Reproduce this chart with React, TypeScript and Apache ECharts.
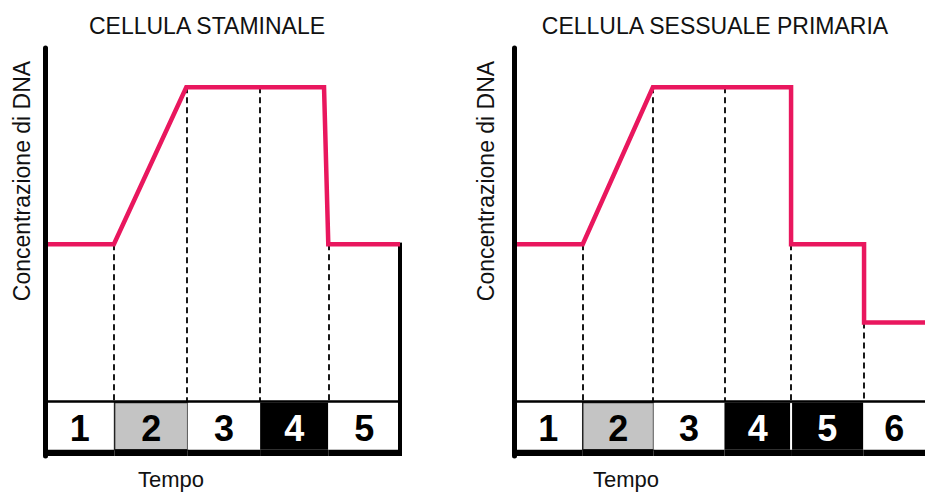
import React, { useEffect, useRef } from 'react';
import * as echarts from 'echarts';

const titles = ['CELLULA STAMINALE', 'CELLULA SESSUALE PRIMARIA'];
const yLabel = 'Concentrazione di DNA';
const xLabel = 'Tempo';

// Chart 1: stem cell — DNA content vs. time
const stemX = [0, 0.97, 1.99, 3.93, 3.99, 5];
const stemY = [2, 2, 4, 4, 2, 2];
const stemGuideX = [0.97, 1.99, 3.03, 3.99];
const stemGuideTop = [2, 4, 4, 2];
const stemBounds = [0, 0.98, 2.01, 3.03, 3.99, 5];
const stemPhases = ['1', '2', '3', '4', '5'];

// Chart 2: primary germ cell — DNA content vs. time
const germX = [0, 0.97, 1.96, 3.91, 3.91, 4.94, 4.94, 5.8];
const germY = [2, 2, 4, 4, 2, 2, 1, 1];
const germGuideX = [0.97, 1.96, 2.98, 3.91, 4.94];
const germGuideTop = [2, 4, 4, 2, 1];
const germBounds = [0, 0.97, 1.97, 2.97, 3.91, 4.93, 5.8];
const germPhases = ['1', '2', '3', '4', '5', '6'];

// styles
const RED = '#e9175e';
const GRAY = '#c4c4c4';
const stemFills = ['#fff', GRAY, '#fff', '#000', '#fff'];
const germFills = ['#fff', GRAY, '#fff', '#000', '#000', '#fff'];
const Y_MIN = -0.7;
const Y_MAX = 4.5;
const CELL_BOTTOM = -0.62;
const FONT = '"Liberation Sans", Arial, Helvetica, sans-serif';

function cellSeries(gi: number, bounds: number[], phases: string[], fills: string[]) {
  return {
    type: 'custom',
    xAxisIndex: gi,
    yAxisIndex: gi,
    silent: true,
    z: 3,
    encode: { x: [0, 1] },
    data: phases.map((_, i) => [bounds[i], bounds[i + 1], i]),
    renderItem: (_params: any, api: any) => {
      const i = api.value(2);
      const a = api.coord([api.value(0), 0]);
      const b = api.coord([api.value(1), CELL_BOTTOM]);
      const c = api.coord([api.value(1), Y_MIN]);
      const fill = fills[i];
      const children: any[] = [
        {
          type: 'rect',
          shape: { x: a[0], y: a[1] + 1.5, width: b[0] - a[0], height: b[1] - a[1] - 1.5 },
          style: { fill, stroke: fill === GRAY ? '#222' : null, lineWidth: 1.5 },
        },
        {
          type: 'rect',
          shape: { x: a[0], y: b[1], width: b[0] - a[0], height: c[1] - b[1] },
          style: { fill: '#000' },
        },
        {
          type: 'text',
          x: (a[0] + b[0]) / 2,
          y: (a[1] + b[1]) / 2 + 3,
          style: {
            text: phases[i],
            fill: fill === '#000' ? '#fff' : '#000',
            font: `bold 36px ${FONT}`,
            align: 'center',
            verticalAlign: 'middle',
          },
        },
      ];
      if (i > 0 && fills[i - 1] === '#000' && fill === '#000') {
        children.push({
          type: 'line',
          shape: { x1: a[0], y1: a[1] + 2, x2: a[0], y2: b[1] },
          style: { stroke: '#fff', lineWidth: 2 },
        });
      }
      return { type: 'group', children };
    },
  };
}

function redSeries(gi: number, xs: number[], ys: number[], gx: number[], gt: number[]) {
  return {
    type: 'line',
    xAxisIndex: gi,
    yAxisIndex: gi,
    symbol: 'none',
    silent: true,
    z: 5,
    data: xs.map((x, i) => [x, ys[i]]),
    lineStyle: { color: RED, width: 4.5, join: 'miter' },
    markLine: {
      silent: true,
      symbol: ['none', 'none'],
      label: { show: false },
      lineStyle: { type: [6, 4], color: '#000', width: 1.8 },
      data: gx.map((x, i) => [{ coord: [x, gt[i]] }, { coord: [x, 0] }]),
    },
  };
}

function axisX(gi: number, max: number) {
  return {
    type: 'value',
    gridIndex: gi,
    min: 0,
    max,
    z: 10,
    axisLine: { show: true, onZero: true, lineStyle: { color: '#000', width: 2.5 } },
    axisTick: { show: false },
    axisLabel: { show: false },
    splitLine: { show: false },
  };
}

function axisY(gi: number) {
  return {
    type: 'value',
    gridIndex: gi,
    min: Y_MIN,
    max: Y_MAX,
    z: 10,
    axisLine: { show: true, lineStyle: { color: '#000', width: 5 } },
    axisTick: { show: false },
    axisLabel: { show: false },
    splitLine: { show: false },
  };
}

export default function App() {
  const ref = useRef<HTMLDivElement>(null);
  useEffect(() => {
    if (!ref.current) return;
    const chart = echarts.init(ref.current, null, { renderer: 'svg' });
    const textStyle = (text: string, size: number) => ({
      text,
      fill: '#111',
      font: `${size}px ${FONT}`,
      align: 'center',
      verticalAlign: 'middle',
    });
    chart.setOption({
      animation: false,
      backgroundColor: '#fff',
      grid: [
        { left: 45, top: 48, width: 355, height: 408 },
        { left: 514, top: 48, right: 0, height: 408 },
      ],
      xAxis: [axisX(0, 5), axisX(1, 5.8)],
      yAxis: [axisY(0), axisY(1)],
      series: [
        cellSeries(0, stemBounds, stemPhases, stemFills),
        cellSeries(1, germBounds, germPhases, germFills),
        redSeries(0, stemX, stemY, stemGuideX, stemGuideTop),
        redSeries(1, germX, germY, germGuideX, germGuideTop),
        {
          type: 'line',
          xAxisIndex: 0,
          yAxisIndex: 0,
          symbol: 'none',
          silent: true,
          z: 4,
          data: [[5, 2.02], [5, Y_MIN]],
          lineStyle: { color: '#000', width: 4 },
        },
      ],
      graphic: [
        { type: 'text', x: 207, y: 26, style: textStyle(titles[0], 23) },
        { type: 'text', x: 715, y: 26, style: textStyle(titles[1], 23) },
        { type: 'text', x: 22, y: 181, rotation: Math.PI / 2, style: textStyle(yLabel, 23) },
        { type: 'text', x: 486, y: 181, rotation: Math.PI / 2, style: textStyle(yLabel, 23) },
        { type: 'text', x: 171, y: 479, style: textStyle(xLabel, 22) },
        { type: 'text', x: 626, y: 479, style: textStyle(xLabel, 22) },
      ],
    });
    return () => chart.dispose();
  }, []);
  return (
    <div
      ref={ref}
      style={{ position: 'fixed', left: 0, top: 0, width: 925, height: 492, background: '#fff' }}
    />
  );
}
